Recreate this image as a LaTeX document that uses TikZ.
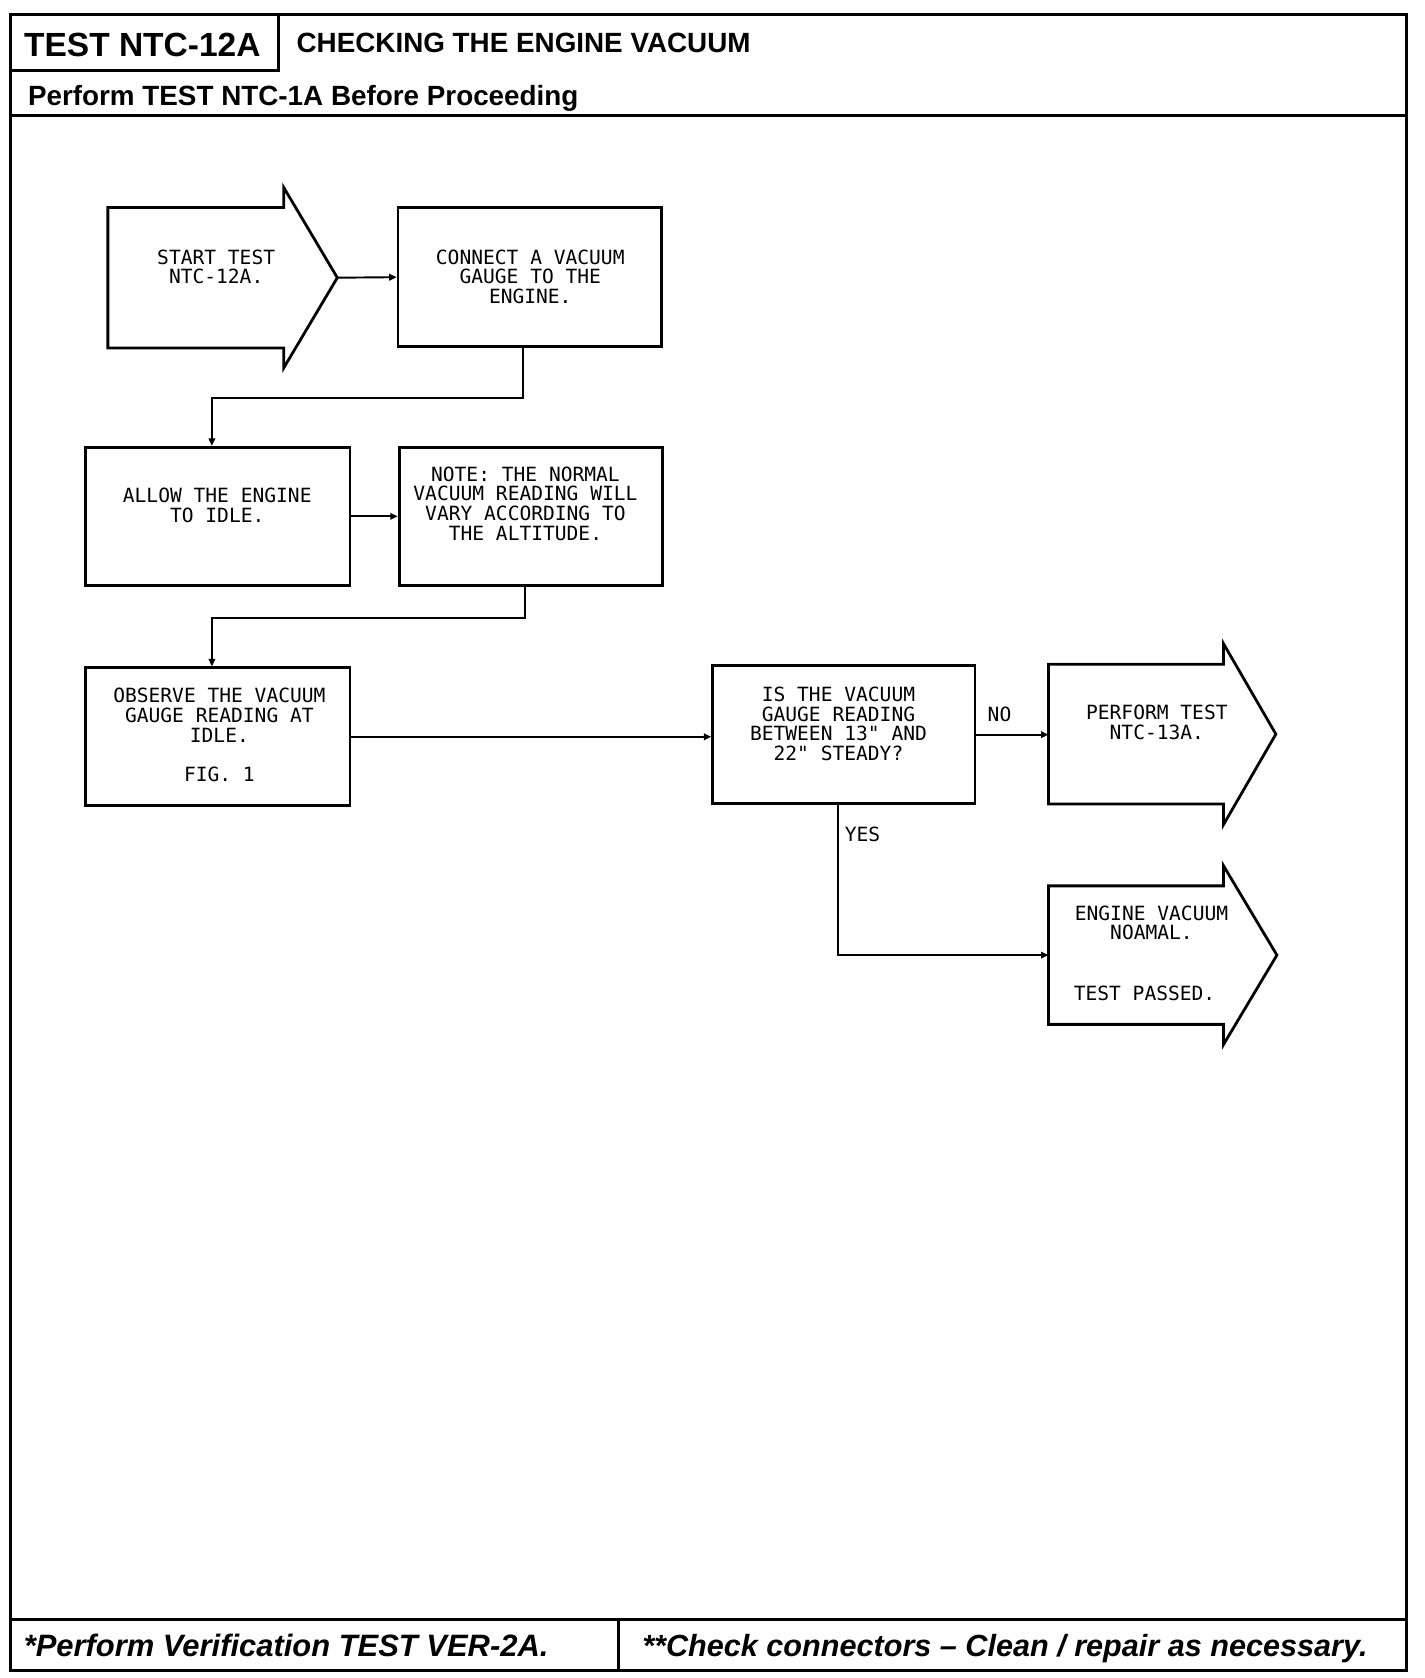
\documentclass[tikz,border=0pt]{standalone}
\usepackage{fontspec}
\setmainfont{Liberation Sans}
\newfontfamily\plotfont{DejaVu Sans Mono}
\usetikzlibrary{arrows.meta}
\begin{document}
\begin{tikzpicture}[x=1pt,y=-1pt,
  frame/.style={line width=2.8pt},
  flowbox/.style={draw,line width=2.6pt,inner sep=0pt},
  arrowbody/.style={draw=none,inner sep=0pt},
  outline/.style={line width=2.6pt,line join=miter},
  txt/.style={font=\plotfont\fontsize{18.3}{18.3}\selectfont,align=center,inner sep=0pt,anchor=north},
  conn/.style={line width=1.8pt,-{Triangle[length=7pt,width=6pt]}},
  line/.style={line width=1.8pt}
]
\useasboundingbox (0,0) rectangle (1331,1568);

% ---- frame and header/footer rules
\draw[frame] (10,14) rectangle (1314,1561);
\draw[frame] (260,14) -- (260,66) -- (10,66);
\draw[frame] (10,108) -- (1314,108);
\draw[frame] (10,1513) -- (1314,1513);
\draw[frame] (578,1513) -- (578,1561);

\node[anchor=base,inner sep=0pt,font=\bfseries\fontsize{31.3}{31.3}\selectfont] (htest) at (133,53) {TEST NTC-12A};
\node[anchor=base west,inner sep=0pt,font=\bfseries\fontsize{26}{26}\selectfont] (htitle) at (277,49.5) {CHECKING THE ENGINE VACUUM};
\node[anchor=base west,inner sep=0pt,font=\bfseries\fontsize{26}{26}\selectfont] (hpre) at (26,98.5) {Perform TEST NTC-1A Before Proceeding};
\node[anchor=base west,inner sep=0pt,font=\bfseries\itshape\fontsize{28.9}{28.9}\selectfont] (fleft) at (22,1548) {*Perform Verification TEST VER-2A.};
\node[anchor=base west,inner sep=0pt,font=\bfseries\itshape\fontsize{28.6}{28.6}\selectfont] (fright) at (600,1548) {**Check connectors -- Clean / repair as necessary.};

% ---- arrow-shaped terminals (bodies)
\node[arrowbody,minimum width=164pt,minimum height=131pt] (start) at (183,259.5) {};
\coordinate (starttip) at ([xshift=50pt]start.east);
\draw[outline] (start.north west) -- (start.north east) -- ([yshift=18.5pt]start.north east)
  -- (starttip) -- ([yshift=-18.5pt]start.south east) -- (start.south east) -- (start.south west) -- cycle;

\node[arrowbody,minimum width=163pt,minimum height=130pt] (perform) at (1061.5,686) {};
\coordinate (performtip) at ([xshift=49pt]perform.east);
\draw[outline] (perform.north west) -- (perform.north east) -- ([yshift=19.5pt]perform.north east)
  -- (performtip) -- ([yshift=-19.5pt]perform.south east) -- (perform.south east) -- (perform.south west) -- cycle;

\node[arrowbody,minimum width=163pt,minimum height=129pt] (engine) at (1061.5,892.5) {};
\coordinate (enginetip) at ([xshift=50pt]engine.east);
\draw[outline] (engine.north west) -- (engine.north east) -- ([yshift=19pt]engine.north east)
  -- (enginetip) -- ([yshift=-19pt]engine.south east) -- (engine.south east) -- (engine.south west) -- cycle;

% ---- rectangular steps
\node[flowbox,minimum width=246pt,minimum height=130pt] (connect) at (495,259) {};
\node[flowbox,minimum width=247pt,minimum height=129pt] (allow) at (203.5,482.5) {};
\node[flowbox,minimum width=246pt,minimum height=129pt] (note) at (496,482.5) {};
\node[flowbox,minimum width=247pt,minimum height=129pt] (observe) at (203.5,688.5) {};
\node[flowbox,minimum width=245pt,minimum height=129pt] (question) at (788.5,686.5) {};

% ---- texts
\node[txt] (tstart) at (202,233) {START TEST\\NTC-12A.};
\node[txt] (tconnect) at (495.5,233) {CONNECT A VACUUM\\GAUGE TO THE\\ENGINE.};
\node[txt] (tallow) at (203,456) {ALLOW THE ENGINE\\TO IDLE.};
\node[txt] (tnote) at (491,436) {NOTE: THE NORMAL\\VACUUM READING WILL\\VARY ACCORDING TO\\THE ALTITUDE.};
\node[txt] (tobserve) at (205,643) {OBSERVE THE VACUUM\\GAUGE READING AT\\IDLE.\\[19pt]FIG. 1};
\node[txt] (tquestion) at (783.5,642) {IS THE VACUUM\\GAUGE READING\\BETWEEN 13" AND\\22" STEADY?};
\node[txt] (tperform) at (1081,659) {PERFORM TEST\\NTC-13A.};
\node[txt] (tengine) at (1076,846) {ENGINE VACUUM\\NOAMAL.};
\node[txt] (tengine2) at (1069.5,921) {TEST PASSED.};
\node[txt] (lno) at (934,660) {NO};
\node[txt] (lyes) at (806,773) {YES};

% ---- connectors
\draw[conn] (starttip) -- (connect.west);
\draw[conn] ([xshift=-6pt]connect.south) -- ++(0,47) -| ([xshift=-5.5pt]allow.north);
\draw[conn] (allow.east) -- (note.west);
\draw[conn] ([xshift=-5pt]note.south) -- ++(0,29) -| ([xshift=-5.5pt]observe.north);
\draw[conn] (observe.east) -- (observe.east -| question.west);
\draw[conn] (question.east) -- (question.east -| perform.west);
\draw[conn] ([xshift=-5.5pt]question.south) |- (engine.west);
\end{tikzpicture}
\end{document}
